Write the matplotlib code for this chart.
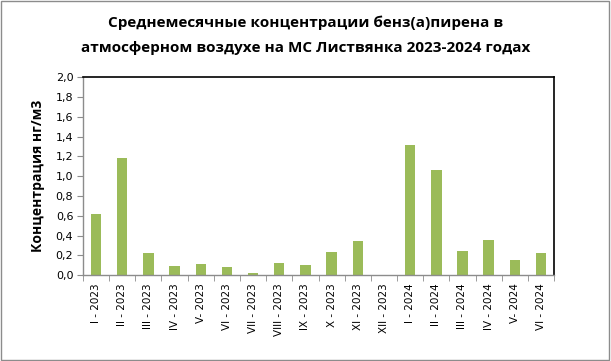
import matplotlib
matplotlib.use('Agg')
import matplotlib.pyplot as plt
import numpy as np

# monthly values
months = ['I - 2023', 'II - 2023', 'III - 2023', 'IV - 2023', 'V- 2023', 'VI - 2023',
          'VII - 2023', 'VIII - 2023', 'IX - 2023', 'X - 2023', 'XI - 2023', 'XII - 2023',
          'I - 2024', 'II - 2024', 'III - 2024', 'IV - 2024', 'V- 2024', 'VI - 2024']
values = [0.62, 1.18, 0.22, 0.09, 0.11, 0.08, 0.02, 0.12, 0.10, 0.23, 0.34, 0.0,
          1.32, 1.06, 0.24, 0.35, 0.15, 0.22]
y_ticks = [0.0, 0.2, 0.4, 0.6, 0.8, 1.0, 1.2, 1.4, 1.6, 1.8, 2.0]

title_lines = ['Среднемесячные концентрации бенз(а)пирена в',
               'атмосферном воздухе на МС Листвянка 2023-2024 годах']
ylabel = 'Концентрация нг/м3'

plt.rcParams['font.family'] = ['Open Sans', 'DejaVu Sans']

fig = plt.figure(figsize=(6.11, 3.61), dpi=100)
fig.patch.set_facecolor('white')
# outer border of chart area
fig.add_artist(plt.Rectangle((0.002, 0.003), 0.994, 0.994, transform=fig.transFigure,
                             fill=False, edgecolor='#8c8c8c', linewidth=1.0))

ax = fig.add_axes([0.1358, 0.238, 0.771, 0.548])
x = np.arange(len(months))
ax.bar(x, values, width=0.4, color='#9BBB59')

ax.set_xlim(-0.5, len(months) - 0.5)
ax.set_ylim(0, 2.0)
ax.set_yticks(y_ticks)
ax.set_yticklabels([f'{v:.1f}'.replace('.', ',') for v in y_ticks],
                   fontsize=8, family='DejaVu Sans')
ax.set_xticks(x)
ax.set_xticklabels(months, rotation=90, fontsize=7.5, family='DejaVu Sans')
ax.tick_params(axis='x', length=0, pad=6)
ax.set_xticks(np.arange(-0.5, len(months), 1.0), minor=True)
ax.tick_params(axis='x', which='minor', length=4, color='#8c8c8c', direction='out')
ax.tick_params(axis='y', length=4, color='#8c8c8c', direction='out', pad=3)

for side in ['top', 'right']:
    ax.spines[side].set_color('black')
    ax.spines[side].set_linewidth(1.2)
for side in ['left', 'bottom']:
    ax.spines[side].set_color('#8c8c8c')
    ax.spines[side].set_linewidth(1.0)

ax.set_ylabel(ylabel, fontsize=10, fontweight='bold', labelpad=8)
for i, line in enumerate(title_lines):
    fig.text(0.5, 0.937 - i * 0.07, line, ha='center', va='center', fontsize=11,
             fontweight='bold')

fig.savefig('out.png', dpi=100)
